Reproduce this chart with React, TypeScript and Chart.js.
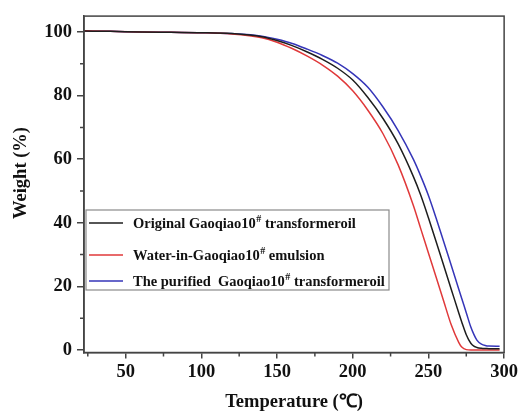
import React, { useEffect, useRef } from 'react';
import { Chart, registerables } from 'chart.js';

Chart.register(...registerables);

// Temperature (°C)
const TEMP = [22.5, 40, 60, 80, 100, 120, 140, 150, 160, 170, 180, 190, 200, 210, 220, 230, 240, 245, 250, 255, 260, 265, 270, 272, 275, 278, 280, 282, 285, 288, 290, 295, 297];
// Weight (%)
const ORIGINAL = [100.3, 100.2, 100.0, 99.9, 99.8, 99.5, 98.5, 97.3, 95.7, 93.7, 91.4, 88.6, 84.9, 79.4, 72.8, 64.8, 54.6, 48.6, 41.6, 34.2, 26.7, 19.2, 11.7, 8.8, 4.8, 2.1, 1.2, 0.8, 0.55, 0.45, 0.4, 0.4, 0.4];
const EMULSION = [100.4, 100.2, 100.0, 99.9, 99.8, 99.4, 98.2, 96.8, 94.8, 92.4, 89.6, 86.1, 81.5, 75.4, 68.0, 58.2, 45.5, 38.0, 30.5, 23.0, 15.5, 8.0, 2.4, 0.9, 0.1, 0.0, 0.0, 0.0, 0.0, 0.0, 0.0, 0.0, 0.0];
const PURIFIED = [100.3, 100.2, 100.0, 99.9, 99.8, 99.5, 98.7, 97.7, 96.4, 94.6, 92.6, 90.2, 86.9, 82.6, 76.4, 69.0, 60.0, 54.6, 48.6, 41.6, 34.2, 26.7, 19.2, 16.2, 11.7, 7.2, 4.9, 3.1, 1.8, 1.35, 1.25, 1.2, 1.2];

const SERIES_NAMES = [
  ['Original Gaoqiao10', '#', ' transformeroil'],
  ['Water-in-Gaoqiao10', '#', ' emulsion'],
  ['The purified  Gaoqiao10', '#', ' transformeroil'],
];
const SERIES_COLORS = ['#1e1e1e', '#e0393a', '#3535b8'];

const X_TICKS = [50, 100, 150, 200, 250, 300];
const X_MINOR = [25, 75, 125, 175, 225, 275];
const Y_TICKS = [0, 20, 40, 60, 80, 100];
const Y_MINOR = [10, 30, 50, 70, 90];

const X_TITLE = 'Temperature (℃)';
const Y_TITLE = 'Weight (%)';

const FAMILY = "'Liberation Serif', 'Times New Roman', serif";
const AXIS_COLOR = '#444';

const decorPlugin = {
  id: 'decor',
  afterDatasetsDraw(chart: any) {
    const { ctx, chartArea: a, scales } = chart;
    ctx.save();
    // frame
    ctx.strokeStyle = AXIS_COLOR;
    ctx.lineWidth = 1.5;
    ctx.strokeRect(a.left, a.top, a.right - a.left, a.bottom - a.top);
    // minor ticks
    ctx.beginPath();
    for (const v of X_MINOR) {
      const x = scales.x.getPixelForValue(v);
      ctx.moveTo(x, a.bottom);
      ctx.lineTo(x, a.bottom + 4);
    }
    for (const v of Y_MINOR) {
      const y = scales.y.getPixelForValue(v);
      ctx.moveTo(a.left, y);
      ctx.lineTo(a.left - 4, y);
    }
    ctx.stroke();

    // y title
    ctx.save();
    ctx.translate(21, 173);
    ctx.rotate(-Math.PI / 2);
    ctx.fillStyle = '#111';
    ctx.font = `bold 18.5px ${FAMILY}`;
    ctx.textAlign = 'center';
    ctx.textBaseline = 'middle';
    ctx.fillText(Y_TITLE, 0, 0);
    ctx.restore();

    // legend box
    const bx = a.left + 2;
    const by = 210;
    const bw = 389 - bx;
    const bh = 80;
    ctx.fillStyle = '#fff';
    ctx.fillRect(bx, by, bw, bh);
    ctx.strokeStyle = '#8a8a8a';
    ctx.lineWidth = 1.2;
    ctx.strokeRect(bx, by, bw, bh);
    const rows = [223, 255, 281];
    SERIES_NAMES.forEach((parts, i) => {
      const y = rows[i];
      ctx.strokeStyle = SERIES_COLORS[i];
      ctx.lineWidth = 1.5;
      ctx.beginPath();
      ctx.moveTo(89, y);
      ctx.lineTo(123, y);
      ctx.stroke();
      ctx.fillStyle = '#111';
      ctx.textBaseline = 'middle';
      ctx.textAlign = 'left';
      let x = 133;
      ctx.font = `bold 14.5px ${FAMILY}`;
      ctx.fillText(parts[0], x, y + 1);
      x += ctx.measureText(parts[0]).width + 0.5;
      ctx.font = `bold 10px ${FAMILY}`;
      ctx.fillText(parts[1], x, y - 4);
      x += ctx.measureText(parts[1]).width;
      ctx.font = `bold 14.5px ${FAMILY}`;
      ctx.fillText(parts[2], x, y + 1);
    });
    ctx.restore();
  },
};

export default function App() {
  const ref = useRef<HTMLCanvasElement>(null);
  useEffect(() => {
    const mk = (label: string, data: number[], color: string) => ({
      label,
      data: TEMP.map((t, i) => ({ x: t, y: data[i] })),
      borderColor: color,
      backgroundColor: color,
      borderWidth: 1.5,
      pointRadius: 0,
      cubicInterpolationMode: 'monotone' as const,
      fill: false,
    });
    const chart = new Chart(ref.current!, {
      type: 'line',
      data: {
        datasets: [
          mk(SERIES_NAMES[0].join(''), ORIGINAL, SERIES_COLORS[0]),
          mk(SERIES_NAMES[1].join(''), EMULSION, SERIES_COLORS[1]),
          mk(SERIES_NAMES[2].join(''), PURIFIED, SERIES_COLORS[2]),
        ],
      },
      options: {
        animation: false,
        responsive: true,
        maintainAspectRatio: false,
        layout: { padding: { top: 14, right: 16, left: 0, bottom: 0 } },
        plugins: { legend: { display: false }, tooltip: { enabled: false } },
        scales: {
          x: {
            type: 'linear',
            min: 22.5,
            max: 300,
            afterBuildTicks: (s: any) => {
              s.ticks = X_TICKS.map((v) => ({ value: v }));
            },
            afterFit: (s: any) => {
              s.height = 61.5;
            },
            grid: { display: true, drawOnChartArea: false, drawTicks: true, tickLength: 6, color: AXIS_COLOR, lineWidth: 1.5 },
            border: { display: true, color: AXIS_COLOR, width: 1.5 },
            ticks: { color: '#111', font: { family: FAMILY, size: 18.5, weight: 'bold' }, padding: 3, maxRotation: 0, autoSkip: false },
            title: { display: true, text: X_TITLE, color: '#111', font: { family: FAMILY, size: 18.5, weight: 'bold' }, padding: { top: 0, bottom: 1 } },
          },
          y: {
            type: 'linear',
            min: -0.8,
            max: 105,
            afterBuildTicks: (s: any) => {
              s.ticks = Y_TICKS.map((v) => ({ value: v }));
            },
            afterFit: (s: any) => {
              s.width = 84;
            },
            grid: { display: true, drawOnChartArea: false, drawTicks: true, tickLength: 7, color: AXIS_COLOR, lineWidth: 1.5 },
            border: { display: true, color: AXIS_COLOR, width: 1.5 },
            ticks: { color: '#111', font: { family: FAMILY, size: 18.5, weight: 'bold' }, padding: 5, autoSkip: false },
            title: { display: false, text: Y_TITLE },
          },
        },
      },
      plugins: [decorPlugin],
    });
    return () => chart.destroy();
  }, []);
  return (
    <div style={{ position: 'absolute', left: 0, top: 0, width: 521, height: 414 }}>
      <canvas ref={ref} />
    </div>
  );
}
